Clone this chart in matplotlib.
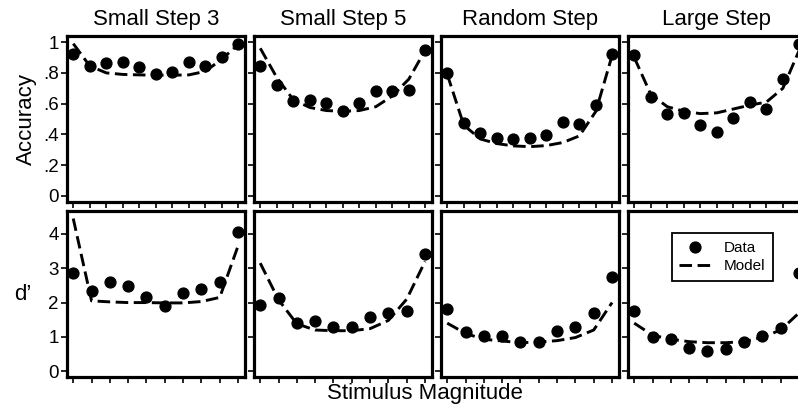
import numpy as np
import matplotlib
matplotlib.use("Agg")
import matplotlib.pyplot as plt

plt.rcParams['font.family'] = ['Liberation Sans', 'DejaVu Sans']

### conditions
titles = ["Small Step 3", "Small Step 5", "Random Step", "Large Step"]

### accuracy (11 stimulus levels)
acc_x = np.arange(1, 12)
acc_data = [
    [0.924, 0.842, 0.863, 0.868, 0.837, 0.794, 0.803, 0.868, 0.842, 0.902, 0.989],
    [0.848, 0.718, 0.614, 0.625, 0.607, 0.553, 0.603, 0.681, 0.681, 0.690, 0.946],
    [0.798, 0.473, 0.412, 0.375, 0.369, 0.375, 0.393, 0.482, 0.466, 0.592, 0.924],
    [0.918, 0.646, 0.531, 0.538, 0.460, 0.414, 0.508, 0.608, 0.566, 0.759, 0.987],
]
acc_model = [
    [0.99, 0.845, 0.80, 0.79, 0.787, 0.785, 0.785, 0.787, 0.81, 0.89, 0.985],
    [0.96, 0.77, 0.625, 0.575, 0.555, 0.55, 0.555, 0.58, 0.65, 0.76, 0.95],
    [0.79, 0.46, 0.37, 0.34, 0.325, 0.32, 0.327, 0.347, 0.39, 0.55, 0.92],
    [0.90, 0.66, 0.58, 0.55, 0.535, 0.54, 0.565, 0.59, 0.61, 0.70, 0.95],
]

### d' (10 adjacent pairs)
d_x = np.arange(1, 11)
d_data = [
    [2.86, 2.34, 2.60, 2.47, 2.15, 1.90, 2.27, 2.41, 2.60, 4.06],
    [1.93, 2.13, 1.41, 1.47, 1.28, 1.30, 1.57, 1.69, 1.74, 3.41],
    [1.80, 1.13, 1.02, 1.02, 0.84, 0.86, 1.18, 1.28, 1.71, 2.74],
    [1.76, 0.99, 0.95, 0.69, 0.60, 0.64, 0.86, 1.02, 1.25, 2.86],
]
d_model = [
    [4.45, 2.05, 2.02, 2.00, 2.00, 1.99, 1.99, 2.03, 2.15, 3.65],
    [3.15, 2.08, 1.38, 1.20, 1.18, 1.18, 1.24, 1.48, 2.10, 3.20],
    [1.40, 1.10, 0.93, 0.88, 0.83, 0.85, 0.89, 0.98, 1.20, 2.00],
    [1.40, 1.05, 0.93, 0.86, 0.83, 0.83, 0.86, 0.99, 1.20, 1.70],
]

acc_ticks = [0, 0.2, 0.4, 0.6, 0.8, 1]
acc_ticklabels = ["0", ".2", ".4", ".6", ".8", "1"]
d_ticks = [0, 1, 2, 3, 4]

W, H = 798, 408
fig = plt.figure(figsize=(W / 100, H / 100), dpi=100)

def style(ax):
    for s in ax.spines.values():
        s.set_linewidth(2.3)
    ax.tick_params(direction='out', length=4, width=1.2, pad=2, labelsize=13.5)

def draw(ax, x, data, model):
    ax.plot(x, model, color='black', lw=2.1, dashes=(4.3, 1.9))
    ax.plot(x, data, 'o', color='black', ms=7.8, ls='none')

for i in range(4):
    left = (67 + i * 187) / W
    w = 178 / W
    h = 166 / H

    # top row: accuracy
    ax = fig.add_axes([left, (H - 202) / H, w, h])
    draw(ax, acc_x, acc_data[i], acc_model[i])
    ax.set_xlim(0.62, 11.4)
    ax.set_ylim(-0.04, 1.04)
    ax.set_xticks(acc_x)
    ax.set_xticklabels([])
    ax.set_yticks(acc_ticks)
    if i == 0:
        ax.set_yticklabels(acc_ticklabels)
        ax.set_ylabel("Accuracy", fontsize=16, labelpad=4)
    else:
        ax.set_yticklabels([])
    ax.set_title(titles[i], fontsize=16, pad=8)
    style(ax)

    # bottom row: d'
    ax2 = fig.add_axes([left, (H - 377) / H, w, h])
    draw(ax2, d_x, d_data[i], d_model[i])
    ax2.set_xlim(0.66, 10.38)
    ax2.set_ylim(-0.17, 4.67)
    ax2.set_xticks(d_x)
    ax2.set_xticklabels([])
    ax2.set_yticks(d_ticks)
    if i == 0:
        ax2.set_yticklabels([str(t) for t in d_ticks])
        ax2.set_ylabel("d\u2019", fontsize=16, rotation=0, labelpad=18, va='center')
    else:
        ax2.set_yticklabels([])
    style(ax2)
    if i == 3:
        ax2.plot([], [], 'o', color='black', ms=7.8, label='Data')
        ax2.plot([], [], color='black', lw=2.1, dashes=(4.3, 1.9), label='Model')
        leg = ax2.legend(loc='upper left', bbox_to_anchor=(0.245, 0.865), fontsize=11,
                         frameon=True, fancybox=False, edgecolor='black', framealpha=1,
                         handlelength=2.0, handletextpad=0.9, borderpad=0.5,
                         labelspacing=0.25, borderaxespad=0)
        leg.get_frame().set_linewidth(1.3)

fig.text(425 / W, (H - 393) / H, "Stimulus Magnitude",
         ha='center', va='center', fontsize=16)

fig.savefig("out.png", dpi=100)
